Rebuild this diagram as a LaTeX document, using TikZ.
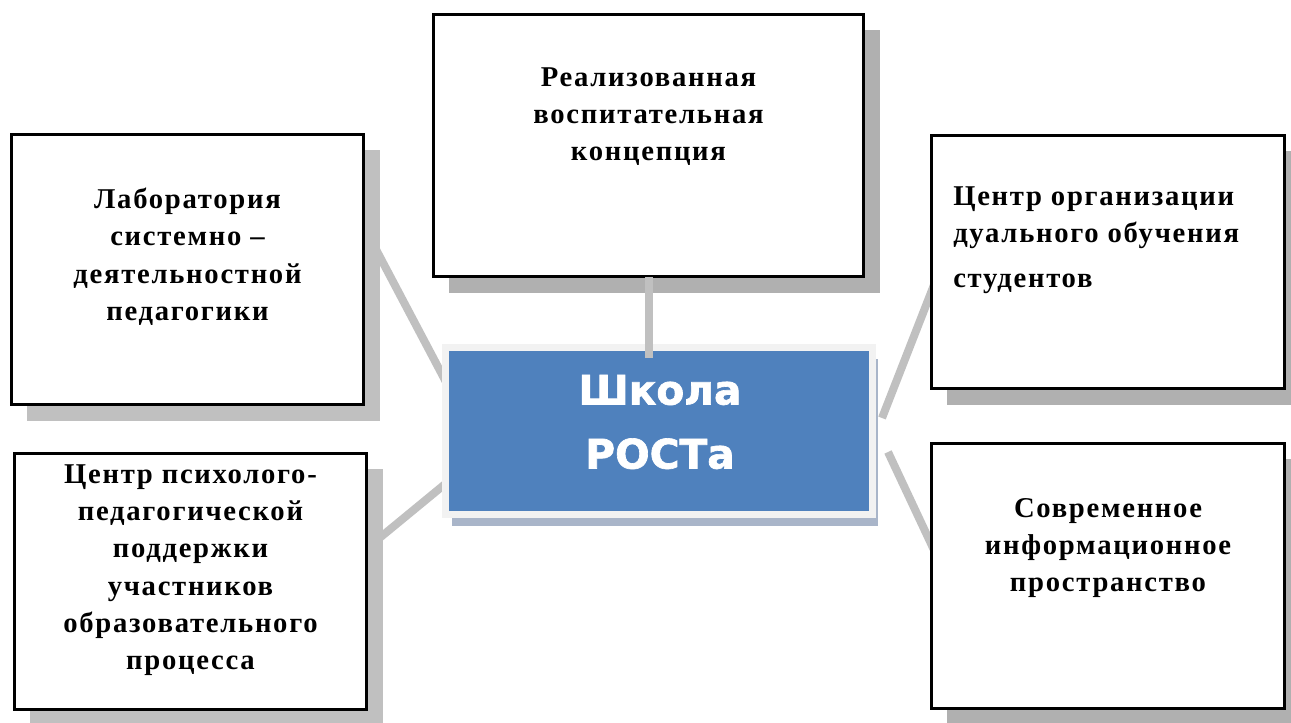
\documentclass[tikz,border=0pt]{standalone}
\usepackage{fontspec}
\setmainfont{Liberation Serif}
\newfontfamily\boxfont[LetterSpace=6]{Liberation Serif}
\newfontfamily\titlefont[BoldFeatures={FakeBold=1.6}]{DejaVu Sans}
\usetikzlibrary{positioning,calc,shadows,backgrounds}

\definecolor{linkgray}{HTML}{C0C0C0}
\definecolor{shadegray}{HTML}{C0C0C0}
\definecolor{dotgray}{HTML}{B0B0B0}
\definecolor{schoolblue}{HTML}{4F81BD}
\definecolor{framegray}{HTML}{F2F2F2}
\definecolor{blueshade}{HTML}{A9B5C9}

\tikzstyle{block} = [rectangle, draw, line width=2pt, fill=white, inner sep=0pt]
\tikzstyle{flat shadow} = [drop shadow={opacity=1, fill=shadegray, shadow xshift=12pt, shadow yshift=-12pt}]
\tikzstyle{dot shadow} = [drop shadow={opacity=1, fill=dotgray, shadow xshift=12pt, shadow yshift=-12pt}]
\tikzstyle{caption} = [inner sep=0pt, align=center, font=\boxfont\bfseries\fontsize{21.5}{28}\selectfont]
\tikzstyle{line} = [draw, linkgray, line width=6pt]

\begin{document}
\begin{tikzpicture}[x=0.75pt, y=-0.75pt]
	\useasboundingbox (0,0) rectangle (1291,722);

	% boxes
	\node [block, flat shadow, minimum width=264.25pt, minimum height=202.75pt] (lab) at (187.5,269.5) {};
	\node [block, dot shadow, minimum width=322.75pt, minimum height=196.75pt] (concept) at (648.5,145.5) {};
	\node [block, dot shadow, minimum width=265pt, minimum height=190pt] (dual) at (1108,262) {};
	\node [block, flat shadow, minimum width=264.25pt, minimum height=192.25pt] (psych) at (190.5,581.5) {};
	\node [block, dot shadow, minimum width=265pt, minimum height=199pt] (info) at (1108,576) {};
	\node [rectangle, draw=framegray, line width=5.5pt, fill=schoolblue, minimum width=320pt, minimum height=125pt,
		drop shadow={opacity=1, fill=blueshade, shadow xshift=4.5pt, shadow yshift=-8.5pt}] (school) at (659,431) {};

	% texts
	\node [caption, below=41pt of lab.north] (labtext) {Лаборатория\\системно –\\деятельностной\\педагогики};
	\node [caption, below=40.5pt of concept.north] (concepttext) {Реализованная\\воспитательная\\концепция};
	\node [caption, align=left, anchor=north west] (dualtext) at ($(dual.north west)+(23,52)$) {Центр организации\\дуального обучения\\[6pt]студентов};
	\node [caption, below=9pt of psych.north] (psychtext) {Центр психолого-\\педагогической\\поддержки\\участников\\образовательного\\процесса};
	\node [caption, below=42pt of info.north] (infotext) {Современное\\информационное\\пространство};
	\node [inner sep=0pt, align=center, text=white, font=\titlefont\bfseries\fontsize{30.5}{48}\selectfont] (schooltext) at ($(school.center)+(1,-9)$) {Школа\\РОСТа};

	% links
	\begin{scope}[on background layer]
		\path [line] ($(lab.east)+(6,-29.5)$) -- ($(school.west)+(4,-49)$);
		\path [line] ($(psych.east)+(3,-36.5)$) -- ($(school.west)+(8,49)$);
		\path [line] ($(school.east)+(6,-13)$) -- ($(dual.west)+(11,5)$);
		\path [line] ($(school.east)+(12,21)$) -- ($(info.west)+(11,-11)$);
	\end{scope}
	\path [line] ($(concept.south)+(0,-1)$) -- ($(concept.south |- school.north)+(0,14)$);
\end{tikzpicture}
\end{document}
